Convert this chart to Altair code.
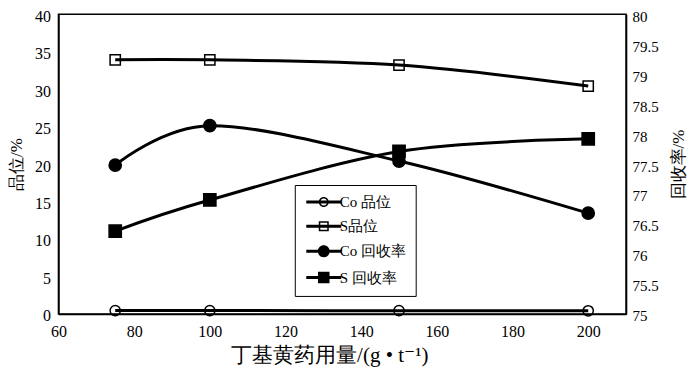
import altair as alt
import pandas as pd

# ---- data ----
x_vals = [75, 100, 150, 200]
series_names = ["Co 品位", "S品位", "Co 回收率", "S 回收率"]
co_grade = [0.45, 0.45, 0.43, 0.42]          # left axis
s_grade = [33.9, 33.9, 33.2, 30.4]           # left axis
co_recovery = [77.48, 78.14, 77.55, 76.68]   # right axis
s_recovery = [76.38, 76.90, 77.71, 77.92]    # right axis

x_ticks = [60, 80, 100, 120, 140, 160, 180, 200]
left_ticks = [0, 5, 10, 15, 20, 25, 30, 35, 40]
right_ticks = [75, 75.5, 76, 76.5, 77, 77.5, 78, 78.5, 79, 79.5, 80]

FONT = "Liberation Serif, DejaVu Serif, serif"


def long_table(names, arrays):
    rows = []
    for n, arr in zip(names, arrays):
        for xv, yv in zip(x_vals, arr):
            rows.append({"x": xv, "y": yv, "series": n})
    return pd.DataFrame(rows)


df_left = long_table(series_names[:2], [co_grade, s_grade])
df_right = long_table(series_names[2:], [co_recovery, s_recovery])
df_legend = pd.DataFrame({"series": series_names})

shape_scale = alt.Scale(domain=series_names, range=["circle", "square", "circle", "square"])
fill_scale = alt.Scale(domain=series_names, range=["transparent", "transparent", "black", "black"])

# legend symbols drawn as filled paths: line bar + ring/disk (1 unit = 5px at size 100)
BAR = "M-3.5,-0.3H3.5V0.3H-3.5Z"
legend_paths = [
    BAR + "M-1,0A1,1 0 1,1 1,0A1,1 0 1,1 -1,0ZM-0.7,0A0.7,0.7 0 1,0 0.7,0A0.7,0.7 0 1,0 -0.7,0Z",
    BAR + "M-1,-1H1V1H-1ZM-0.7,-0.7V0.7H0.7V-0.7Z",
    BAR + "M-1.2,0A1.2,1.2 0 1,1 1.2,0A1.2,1.2 0 1,1 -1.2,0Z",
    BAR + "M-1.15,-1.15H1.15V1.15H-1.15Z",
]

legend = alt.Legend(
    title=None,
    orient="none",
    legendX=236.5,
    legendY=171,
    strokeColor="black",
    fillColor="white",
    padding=9.5,
    rowPadding=7.2,
    symbolSize=100,
    symbolOffset=12,
    labelOffset=8.5,
    labelFont=FONT,
    labelFontSize=15,
    labelColor="black",
    labelLimit=300,
)

x_enc = alt.X(
    "x:Q",
    scale=alt.Scale(domain=[60, 210], nice=False, zero=False),
    axis=alt.Axis(
        values=x_ticks,
        title="丁基黄药用量/(g • t⁻¹)",
        titleX=271,
        tickSize=0,
        labelPadding=10,
        titlePadding=5,
        labelFontSize=16,
        titleFontSize=21,
        labelFlush=False,
    ),
)

y_left = alt.Y(
    "y:Q",
    scale=alt.Scale(domain=[0, 40], nice=False),
    axis=alt.Axis(
        values=left_ticks,
        title="品位/%",
        tickSize=0,
        labelPadding=8,
        labelOffset=2,
        titlePadding=9,
        labelFontSize=16,
        titleFontSize=17,
    ),
)

y_right = alt.Y(
    "y:Q",
    scale=alt.Scale(domain=[75, 80], nice=False, zero=False),
    axis=alt.Axis(
        orient="right",
        values=right_ticks,
        format=".1~f",
        title="回收率/%",
        titleAngle=270,
        titleBaseline="top",
        tickSize=0,
        labelPadding=6,
        labelOffset=2,
        titlePadding=12,
        labelFontSize=15,
        titleFontSize=17,
    ),
)

line_style = dict(interpolate="cardinal", color="black", strokeWidth=3)

line_l = alt.Chart(df_left).mark_line(**line_style).encode(x=x_enc, y=y_left, detail="series:N")
pts_l = alt.Chart(df_left).mark_point(filled=True, stroke="black", strokeWidth=1.5, opacity=1, size=105).encode(
    x=x_enc,
    y=y_left,
    shape=alt.Shape("series:N", scale=shape_scale, legend=None),
    fill=alt.Fill("series:N", scale=fill_scale, legend=None),
)

line_r = alt.Chart(df_right).mark_line(**line_style).encode(x=x_enc, y=y_right, detail="series:N")
pts_r = alt.Chart(df_right).mark_point(filled=True, stroke="black", strokeWidth=1.5, opacity=1, size=150).encode(
    x=x_enc,
    y=y_right,
    shape=alt.Shape("series:N", scale=shape_scale, legend=None),
    fill=alt.Fill("series:N", scale=fill_scale, legend=None),
)

# legend-only layer (no rows drawn)
legend_layer = (
    alt.Chart(df_legend)
    .transform_filter("false")
    .mark_point(filled=True, color="black", opacity=1, size=100)
    .encode(
        shape=alt.Shape("series:N", scale=alt.Scale(domain=series_names, range=legend_paths), legend=legend),
    )
)

left = alt.layer(line_l, pts_l)
right = alt.layer(line_r, pts_r)

chart = (
    alt.layer(left, right, legend_layer)
    .resolve_scale(y="independent", shape="independent", fill="independent")
    .properties(
        width=568,
        height=300,
        autosize=alt.AutoSizeParams(type="none"),
        padding={"left": 50.5, "top": 6, "right": 66, "bottom": 58},
    )
    .configure_view(stroke="black", strokeWidth=1.5)
    .configure_axis(
        labelFont=FONT,
        titleFont=FONT,
        labelColor="black",
        titleColor="black",
        titleFontWeight="normal",
        domainColor="black",
        domainWidth=1.5,
        grid=False,
    )
    .configure_legend(labelFont=FONT)
)

chart.save("out.html", embed_options={"renderer": "svg", "actions": False})
